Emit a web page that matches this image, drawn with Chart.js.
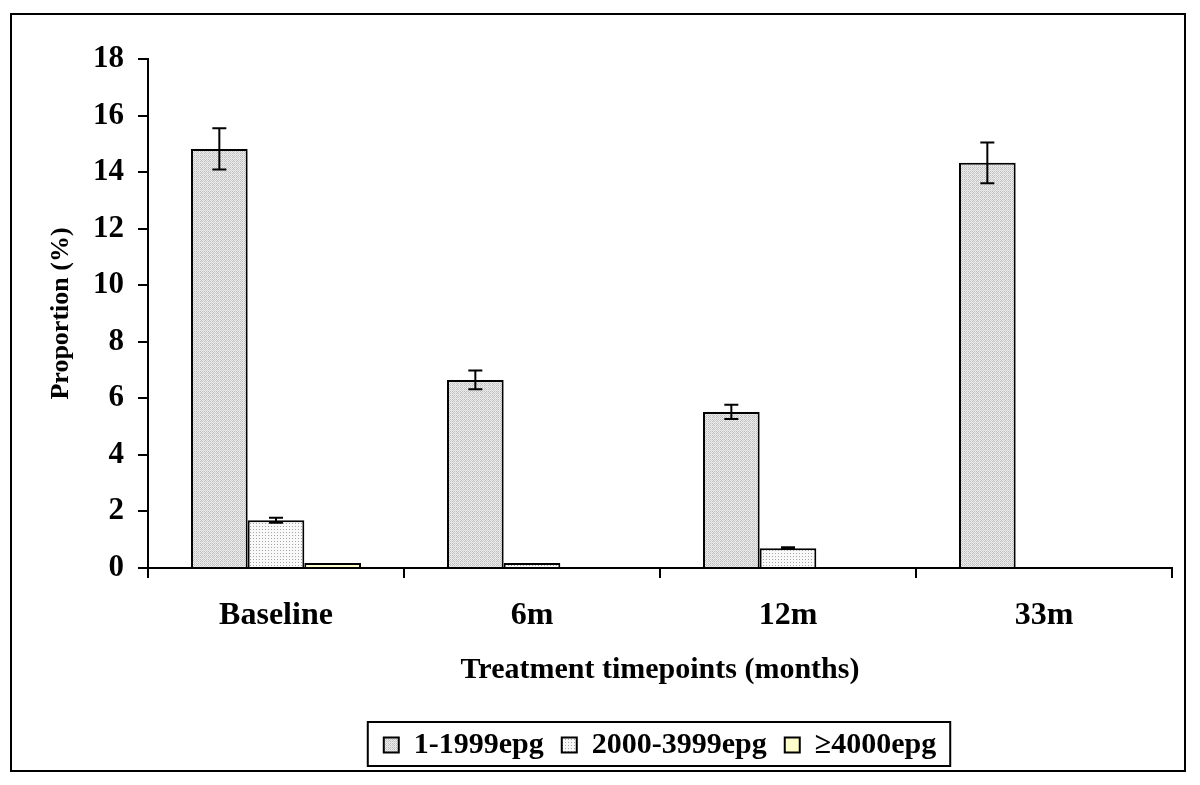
<!DOCTYPE html>
<html lang="en">
<head>
    <meta charset="UTF-8">
    <title>Proportion by treatment timepoint</title>
    <script src="https://cdn.jsdelivr.net/npm/chart.js"></script>
    <style>
        body {
            margin: 0;
            padding: 0;
            background-color: white;
        }

        .frame {
            position: absolute;
            left: 10px;
            top: 13px;
            width: 1172px;
            height: 755px;
            border: 2px solid #000;
        }

        .frame canvas {
            display: block;
        }
    </style>
</head>
<body>
    <div class="frame">
        <canvas id="eggChart" width="1172" height="755"></canvas>
    </div>

    <script>
        // values
        const timepoints = ['Baseline', '6m', '12m', '33m'];
        const seriesNames = ['1-1999epg', '2000-3999epg', '\u22654000epg'];
        const lowCount = [14.82, 6.65, 5.52, 14.33];
        const midCount = [1.69, 0.18, 0.70, 0];
        const highCount = [0.18, 0, 0, 0];
        const lowErr = [0.73, 0.33, 0.25, 0.72];
        const midErr = [0.09, 0, 0.03, 0];
        const highErr = [0, 0, 0, 0];
        const yTicks = [0, 2, 4, 6, 8, 10, 12, 14, 16, 18];

        const serif = "'Liberation Serif', 'Times New Roman', serif";
        Chart.defaults.font.family = serif;
        Chart.defaults.font.weight = 'bold';
        Chart.defaults.color = '#000';

        // stippled fills like the original print
        function makePattern(size, draw) {
            const c = document.createElement('canvas');
            c.width = size;
            c.height = size;
            const g = c.getContext('2d');
            draw(g);
            return g.createPattern(c, 'repeat');
        }

        const darkDots = makePattern(8, (g) => {
            g.fillStyle = '#ececec';
            g.fillRect(0, 0, 8, 8);
            for (let y = 0; y < 8; y++) {
                for (let x = 0; x < 8; x++) {
                    if ((x + y) % 2 === 0) {
                        g.fillStyle = (y % 4 === 3 || x % 4 === 3) ? '#d6d6d6' : '#bdbdbd';
                        g.fillRect(x, y, 1, 1);
                    }
                }
            }
        });

        const lightDots = makePattern(3, (g) => {
            g.fillStyle = '#f9f9f9';
            g.fillRect(0, 0, 3, 3);
            g.fillStyle = '#a6a6a6';
            g.fillRect(1, 1, 1, 1);
        });

        const errorBars = {
            id: 'errorBars',
            afterDatasetsDraw(chart) {
                const ctx = chart.ctx;
                const yScale = chart.scales.y;
                ctx.save();
                ctx.strokeStyle = '#000';
                ctx.lineWidth = 2;
                chart.data.datasets.forEach((ds, i) => {
                    const meta = chart.getDatasetMeta(i);
                    meta.data.forEach((bar, j) => {
                        const e = ds.errors[j];
                        if (!e) return;
                        const v = ds.data[j];
                        const top = yScale.getPixelForValue(v + e);
                        const bot = yScale.getPixelForValue(v - e);
                        ctx.beginPath();
                        ctx.moveTo(bar.x, top);
                        ctx.lineTo(bar.x, bot);
                        ctx.moveTo(bar.x - 7, top);
                        ctx.lineTo(bar.x + 7, top);
                        ctx.moveTo(bar.x - 7, bot);
                        ctx.lineTo(bar.x + 7, bot);
                        ctx.stroke();
                    });
                });
                ctx.restore();
            }
        };

        const legendFrame = {
            id: 'legendFrame',
            afterDraw(chart) {
                const boxes = chart.legend.legendHitBoxes;
                if (!boxes || !boxes.length) return;
                const first = boxes[0];
                const last = boxes[boxes.length - 1];
                const ctx = chart.ctx;
                ctx.save();
                ctx.strokeStyle = '#000';
                ctx.lineWidth = 2;
                ctx.strokeRect(first.left - 16, first.top - 8,
                    last.left + last.width - first.left + 30, first.height + 14);
                ctx.restore();
            }
        };

        const ctx = document.getElementById('eggChart').getContext('2d');

        new Chart(ctx, {
            type: 'bar',
            data: {
                labels: timepoints,
                datasets: [
                    { label: seriesNames[0], data: lowCount, errors: lowErr, backgroundColor: darkDots },
                    { label: seriesNames[1], data: midCount, errors: midErr, backgroundColor: lightDots },
                    { label: seriesNames[2], data: highCount, errors: highErr, backgroundColor: '#ffffcc' }
                ].map((d) => Object.assign(d, {
                    borderColor: '#000',
                    borderWidth: 2,
                    categoryPercentage: 0.664,
                    barPercentage: 1.0
                }))
            },
            options: {
                responsive: false,
                animation: false,
                layout: {
                    padding: { top: 44, right: 12, left: 0, bottom: 0 }
                },
                plugins: {
                    tooltip: { enabled: false },
                    legend: {
                        position: 'bottom',
                        fullSize: false,
                        labels: {
                            boxWidth: 15,
                            boxHeight: 15,
                            padding: 18,
                            font: { size: 30, weight: 'bold', family: serif },
                            color: '#000'
                        }
                    }
                },
                scales: {
                    x: {
                        grid: {
                            display: true,
                            offset: true,
                            drawOnChartArea: false,
                            drawTicks: true,
                            tickLength: 10,
                            color: '#000',
                            lineWidth: 2
                        },
                        border: { color: '#000', width: 2 },
                        ticks: {
                            padding: 19,
                            font: { size: 32, weight: 'bold' }
                        },
                        title: {
                            display: true,
                            text: 'Treatment timepoints (months)',
                            font: { size: 30, weight: 'bold' },
                            padding: { top: 0, bottom: 24 }
                        },
                        afterFit(scale) {
                            scale.height = 144;
                        }
                    },
                    y: {
                        min: 0,
                        max: 18,
                        afterBuildTicks(scale) {
                            scale.ticks = yTicks.map((v) => ({ value: v }));
                        },
                        grid: {
                            drawOnChartArea: false,
                            drawTicks: true,
                            tickLength: 10,
                            color: '#000',
                            lineWidth: 2
                        },
                        border: { color: '#000', width: 2 },
                        ticks: {
                            padding: 14,
                            font: { size: 31, weight: 'bold' }
                        },
                        title: {
                            display: true,
                            text: 'Proportion (%)',
                            font: { size: 26, weight: 'bold' },
                            padding: { top: 34, bottom: 0 }
                        },
                        afterFit(scale) {
                            scale.width = 136;
                        }
                    }
                }
            },
            plugins: [errorBars, legendFrame]
        });
    </script>
</body>
</html>
